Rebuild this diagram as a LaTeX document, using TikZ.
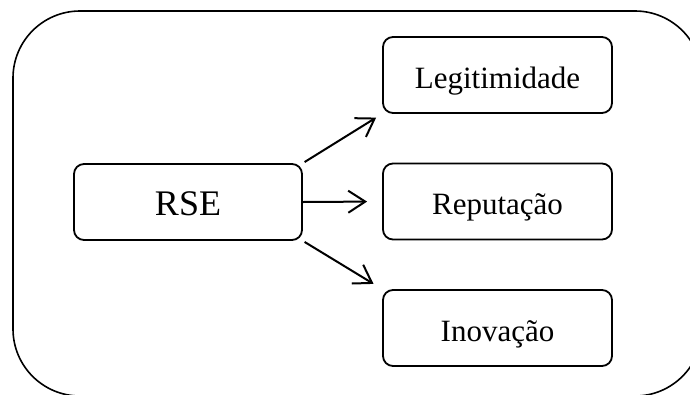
\documentclass[tikz,border=0pt]{standalone}
\usepackage{fontspec}
\setmainfont{Liberation Serif}
\usetikzlibrary{positioning,arrows.meta}

\begin{document}
\begin{tikzpicture}[
			x=1pt, y=-1pt,
			node distance=126.5pt,
			box/.style = {draw, line width=1.8pt, rounded corners=10pt, inner sep=0pt,
				minimum width=229pt, minimum height=76pt,
				text height=26pt, text depth=0pt, font=\fontsize{31}{37}\selectfont},
			link/.style = {line width=2pt, -{Straight Barb[length=17pt, width=22pt, line width=2pt]}}
		]
		\useasboundingbox (0,0) rectangle (690,394);
		% Frame.
		\draw[line width=1.6pt, rounded corners=67pt] (13,11) rectangle (702,396);
		% Source.
		\node[box, minimum width=228pt, font=\fontsize{36}{43}\selectfont] (rse) at (188,202) {RSE};
		% Effects.
		\node[box] (rep) at (497.5,201.5) {Reputação};
		\node[box, above of=rep] (leg) {Legitimidade};
		\node[box, below of=rep] (ino) {Inovação};
		
		\draw[link, shorten <=2pt, shorten >=7pt] (rse.north east) to (leg.south west);
		\draw[link, shorten >=15pt] (rse.east) to (rep.west);
		\draw[link, shorten <=2pt, shorten >=10pt] (rse.south east) to (ino.north west);
	\end{tikzpicture}
\end{document}
